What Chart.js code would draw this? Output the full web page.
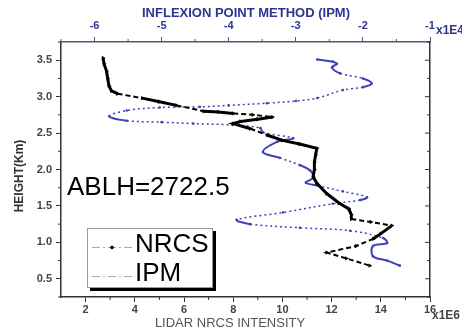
<!DOCTYPE html>
<html>
<head>
<meta charset="utf-8">
<title>ABLH</title>
<script src="https://cdn.jsdelivr.net/npm/chart.js@4.4.0/dist/chart.umd.min.js"></script>
<style>
  body { margin: 0; background: #fff; }
  canvas { display: block; }
</style>
</head>
<body>
<canvas id="grafico" width="462" height="333"></canvas>
<script>
// NRCS profile, intensity in x1E6, height in km
var nrcsHeight = [3.53, 3.45, 3.35, 3.25, 3.15, 3.08, 3.04, 2.98, 2.93, 2.88, 2.80, 2.79, 2.77, 2.75, 2.72,
  2.69, 2.66, 2.63, 2.56, 2.47, 2.40, 2.35, 2.29, 2.20, 2.10, 2.00, 1.90, 1.81, 1.67, 1.54, 1.46, 1.38, 1.32,
  1.28, 1.23, 1.12, 1.05, 0.95, 0.86, 0.78, 0.68];
var nrcsValue = [2.71, 2.75, 2.85, 2.9, 2.95, 3.05, 3.3, 4.3, 5.0, 5.7, 6.8, 7.4, 8.0, 8.8, 9.6,
  9.0, 8.3, 8.0, 8.7, 9.4, 10.0, 10.7, 11.4, 11.35, 11.3, 11.3, 11.25, 11.4, 11.8, 12.3, 12.7, 12.8, 12.8,
  13.6, 14.45, 14.0, 13.7, 13.0, 11.8, 12.6, 13.55];

// IPM profile, x1E4
var ipmHeight = [3.51, 3.48, 3.45, 3.40, 3.32, 3.25, 3.18, 3.13, 3.09, 2.98, 2.94, 2.91, 2.88, 2.86, 2.85,
  2.81, 2.73, 2.67, 2.65, 2.63, 2.61, 2.57, 2.51, 2.43, 2.38, 2.24, 2.16, 2.06, 1.99, 1.89, 1.82, 1.78,
  1.70, 1.62, 1.58, 1.53, 1.41, 1.31, 1.25, 1.20, 1.16, 1.06, 0.99, 0.95, 0.81, 0.75, 0.68];
var ipmValue = [-2.68, -2.45, -2.39, -2.46, -2.34, -2.0, -1.87, -2.0, -2.3, -2.68, -3.0, -3.43, -4.0, -4.43, -5.03,
  -5.52, -5.78, -5.52, -5.0, -4.53, -3.94, -3.53, -3.49, -3.04, -3.28, -3.49, -3.24, -2.94, -2.79, -2.74, -2.85, -2.68,
  -2.3, -1.94, -2.04, -2.45, -3.19, -3.88, -3.68, -2.94, -2.19, -1.70, -1.64, -1.85, -1.85, -1.64, -1.45];

var nrcsTicks = [2, 4, 6, 8, 10, 12, 14, 16];
var ipmTicks = [-6, -5, -4, -3, -2, -1];
var heightTicks = [0.5, 1.0, 1.5, 2.0, 2.5, 3.0, 3.5];

var ablhText = 'ABLH=2722.5';

function pares(xs, ys) {
  var out = [];
  for (var i = 0; i < xs.length; i++) out.push({x: xs[i], y: ys[i]});
  return out;
}

function segLen(ctx) {
  var dx = ctx.p1.x - ctx.p0.x, dy = ctx.p1.y - ctx.p0.y;
  return Math.sqrt(dx * dx + dy * dy);
}

function fixTicks(list) {
  return function(scale) {
    scale.ticks = list.map(function(v) { return {value: v}; });
  };
}

var navy = '#30338f';
var gray = '#444';

// minor ticks, titles, legend box, annotation
var extras = {
  id: 'extras',
  afterDraw: function(chart) {
    var c = chart.ctx, s = chart.scales, a = chart.chartArea;
    var v, p;
    c.save();
    c.lineWidth = 1;
    c.strokeStyle = '#333';
    c.beginPath();
    for (v = 0.25; v < 3.8; v += 0.5) {
      p = s.y.getPixelForValue(v);
      c.moveTo(a.left - 3, p); c.lineTo(a.left, p);
      c.moveTo(a.right, p); c.lineTo(a.right - 3, p);
    }
    for (v = 0.5; v < 3.6; v += 0.5) {
      p = s.y.getPixelForValue(v);
      c.moveTo(a.right, p); c.lineTo(a.right - 5, p);
    }
    for (v = 3; v < 16; v += 2) {
      p = s.x.getPixelForValue(v);
      c.moveTo(p, a.bottom); c.lineTo(p, a.bottom + 3);
    }
    c.stroke();
    c.strokeStyle = '#555577';
    c.beginPath();
    for (v = -6.5; v < -1; v += 1) {
      p = s.x2.getPixelForValue(v);
      c.moveTo(p, a.top); c.lineTo(p, a.top - 3);
    }
    c.stroke();

    // axis titles
    c.textBaseline = 'middle';
    c.textAlign = 'center';
    c.fillStyle = navy;
    c.font = 'bold 13px "Liberation Sans", Arial, sans-serif';
    c.fillText('INFLEXION POINT METHOD (IPM)', 246, 13);
    c.fillStyle = '#555';
    c.font = '13px "Liberation Sans", Arial, sans-serif';
    c.fillText('LIDAR NRCS INTENSITY', 230, 323);
    c.save();
    c.translate(20, 176);
    c.rotate(-Math.PI / 2);
    c.fillStyle = '#333';
    c.font = 'bold 12px "Liberation Sans", Arial, sans-serif';
    c.fillText('HEIGHT(Km)', 0, 0);
    c.restore();

    // exponent marks
    c.textAlign = 'left';
    c.textBaseline = 'alphabetic';
    c.font = 'bold 12px "Liberation Sans", Arial, sans-serif';
    c.fillStyle = navy;
    c.fillText('x1E4', 436, 34);
    c.fillStyle = gray;
    c.fillText('x1E6', 432, 319);

    // ABLH label
    c.fillStyle = '#000';
    c.font = '26px "Liberation Sans", Arial, sans-serif';
    c.fillText(ablhText, 67, 195);

    // legend box with shadow
    c.fillStyle = '#fff';
    c.fillRect(87, 228, 126, 60);
    c.fillStyle = '#000';
    c.fillRect(90, 288, 126, 3);
    c.fillRect(213, 231, 3, 60);
    c.strokeStyle = '#999';
    c.lineWidth = 1;
    c.strokeRect(87.5, 228.5, 125, 59);

    c.strokeStyle = '#aaa';
    c.setLineDash([8, 3, 2, 3]);
    c.beginPath();
    c.moveTo(92, 247.5); c.lineTo(132, 247.5);
    c.moveTo(92, 276.5); c.lineTo(132, 276.5);
    c.stroke();
    c.setLineDash([]);
    c.fillStyle = '#000';
    c.beginPath();
    c.arc(112, 247.5, 1.8, 0, Math.PI * 2);
    c.fill();

    c.font = '26px "Liberation Sans", Arial, sans-serif';
    c.textBaseline = 'middle';
    c.fillText('NRCS', 135, 245);
    c.fillText('IPM', 135, 274);
    c.restore();
  }
};

var ctx = document.getElementById('grafico').getContext('2d');
var grafico = new Chart(ctx, {
  type: 'scatter',
  data: {
    datasets: [{
      label: 'NRCS',
      data: pares(nrcsValue, nrcsHeight),
      xAxisID: 'x',
      yAxisID: 'y',
      showLine: true,
      borderColor: '#000',
      backgroundColor: '#000',
      borderWidth: 3,
      pointStyle: 'triangle',
      pointRotation: 90,
      pointRadius: 2.5,
      pointBorderWidth: 0,
      segment: {
        borderDash: function(c) { return segLen(c) > 18 ? [5, 3] : undefined; },
        borderWidth: function(c) { return segLen(c) > 18 ? 2 : undefined; }
      }
    }, {
      label: 'IPM',
      data: pares(ipmValue, ipmHeight),
      xAxisID: 'x2',
      yAxisID: 'y',
      showLine: true,
      tension: 0.35,
      borderColor: '#4040b8',
      backgroundColor: '#4040b8',
      borderWidth: 2,
      pointStyle: 'circle',
      pointRadius: 1.3,
      pointBorderWidth: 0,
      segment: {
        borderDash: function(c) { return segLen(c) > 18 ? [2, 3] : undefined; },
        borderWidth: function(c) { return segLen(c) > 18 ? 1.5 : undefined; }
      }
    }]
  },
  options: {
    responsive: false,
    animation: false,
    layout: { padding: 0 },
    plugins: {
      legend: { display: false },
      tooltip: { enabled: false }
    },
    scales: {
      x: {
        type: 'linear',
        position: 'bottom',
        min: 1, max: 16,
        afterBuildTicks: fixTicks(nrcsTicks),
        afterFit: function(s) { s.height = 36; },
        grid: { drawOnChartArea: false, tickLength: 5, color: '#333' },
        border: { color: '#333', width: 1.5 },
        ticks: { color: gray, padding: 1, maxRotation: 0, font: { family: 'Liberation Sans', size: 11, weight: 'bold' } }
      },
      x2: {
        type: 'linear',
        position: 'top',
        min: -6.5, max: -1,
        afterBuildTicks: fixTicks(ipmTicks),
        afterFit: function(s) { s.height = 42; },
        grid: { drawOnChartArea: false, tickLength: 5, color: '#555577' },
        border: { color: '#555577', width: 1.5 },
        ticks: { color: navy, padding: 4, maxRotation: 0, font: { family: 'Liberation Sans', size: 11, weight: 'bold' } }
      },
      y: {
        type: 'linear',
        position: 'left',
        min: 0.25, max: 3.75,
        afterBuildTicks: fixTicks(heightTicks),
        afterFit: function(s) { s.width = 61; },
        grid: { drawOnChartArea: false, tickLength: 5, color: '#333' },
        border: { color: '#333', width: 1.5 },
        ticks: {
          color: gray, padding: 4,
          font: { family: 'Liberation Sans', size: 11, weight: 'bold' },
          callback: function(v) { return Number(v).toFixed(1); }
        }
      },
      y2: {
        type: 'linear',
        position: 'right',
        min: 0.25, max: 3.75,
        afterFit: function(s) { s.width = 32; },
        grid: { display: false },
        border: { display: true, color: '#333', width: 1.5 },
        ticks: { display: false }
      }
    }
  },
  plugins: [extras]
});
</script>
</body>
</html>
